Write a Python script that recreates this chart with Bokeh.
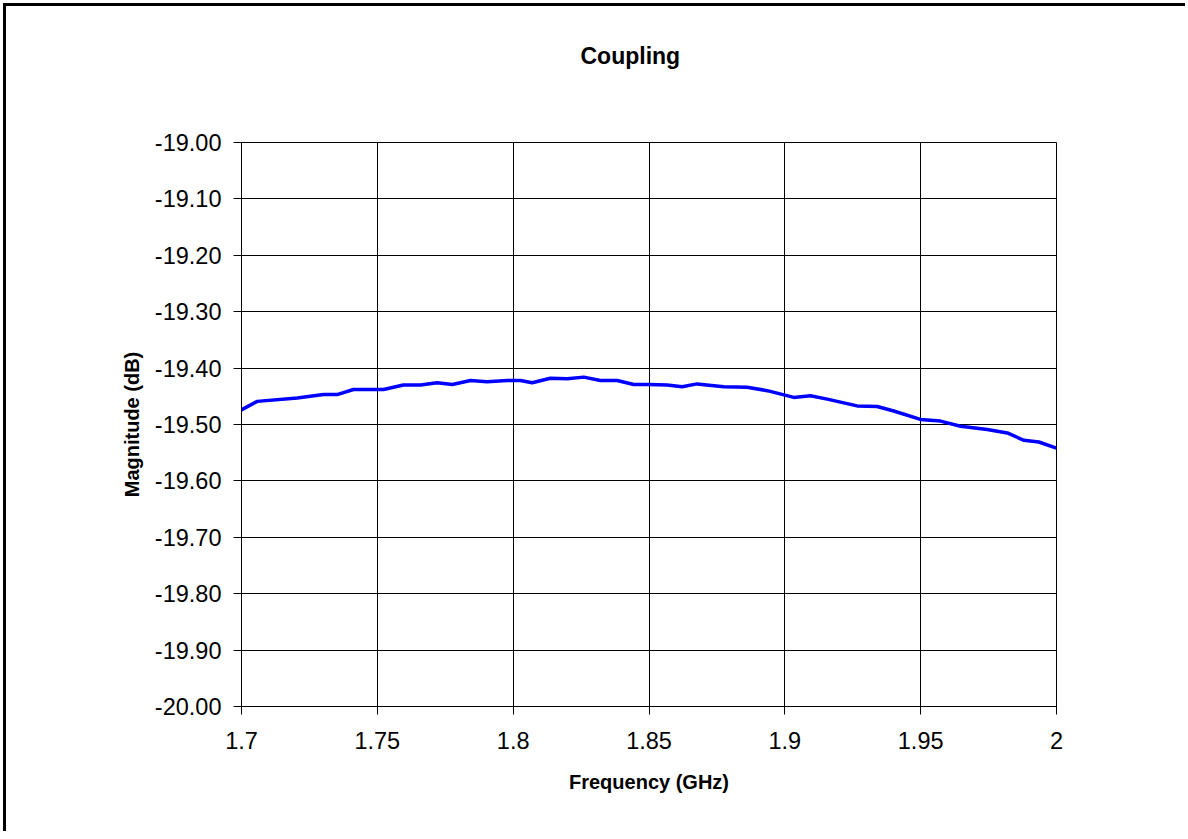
from bokeh.plotting import figure
from bokeh.models import Range1d, FixedTicker, NumeralTickFormatter, CustomJSTickFormatter, Title
from bokeh.embed import file_html
from bokeh.resources import INLINE

# ---- data ----
title_text = "Coupling"
x_title = "Frequency (GHz)"
y_title = "Magnitude (dB)"

freq = [1.7000, 1.7058, 1.7205, 1.7302, 1.7352, 1.7412, 1.7523, 1.7596, 1.7659, 1.7720,
        1.7776, 1.7843, 1.7904, 1.7978, 1.8027, 1.8070, 1.8137, 1.8199, 1.8260, 1.8321,
        1.8383, 1.8444, 1.8498, 1.8567, 1.8622, 1.8677, 1.8775, 1.8861, 1.8935, 1.9033,
        1.9094, 1.9156, 1.9266, 1.9340, 1.9401, 1.9499, 1.9573, 1.9647, 1.9745, 1.9819,
        1.9880, 1.9935, 2.0000]
mag = [-19.474, -19.459, -19.453, -19.447, -19.447, -19.438, -19.438, -19.430, -19.430, -19.426,
       -19.429, -19.422, -19.424, -19.422, -19.422, -19.426, -19.418, -19.419, -19.416, -19.422,
       -19.422, -19.429, -19.429, -19.430, -19.433, -19.428, -19.433, -19.434, -19.440, -19.452,
       -19.449, -19.455, -19.467, -19.468, -19.476, -19.491, -19.494, -19.503, -19.509, -19.515,
       -19.528, -19.531, -19.542]

x_ticks = [1.7, 1.75, 1.8, 1.85, 1.9, 1.95, 2.0]
y_ticks = [-20.0, -19.9, -19.8, -19.7, -19.6, -19.5, -19.4, -19.3, -19.2, -19.1, -19.0]

FONT = "Liberation Sans"

p = figure(width=1182, height=828, output_backend="svg", toolbar_location=None,
           x_range=Range1d(1.7, 2.0), y_range=Range1d(-20.0, -19.0),
           min_border_left=235, min_border_right=132, min_border_top=136, min_border_bottom=128)
p.styles = {"margin": "6px 0 0 6px", "box-shadow": "-3px -3px 0 0 black"}

p.background_fill_color = "white"
p.border_fill_color = "white"
p.outline_line_color = "black"
p.outline_line_width = 1

p.line(freq, mag, line_color="#0000FF", line_width=3.5, line_join="round", line_cap="round")

# spacer between frame and title
p.add_layout(Title(text=" ", text_font=FONT, text_font_size="20px", standoff=12), "above")

# title
p.title.text = title_text
p.title.text_font = FONT
p.title.text_font_size = "23px"
p.title.text_font_style = "bold"
p.title.text_color = "black"
p.title.align = "left"
p.title.offset = 339
p.title.vertical_align = "top"
p.title.standoff = 72

# axes
p.xaxis.ticker = FixedTicker(ticks=x_ticks)
p.yaxis.ticker = FixedTicker(ticks=y_ticks)
p.xaxis.formatter = CustomJSTickFormatter(code="return String(Math.round(tick*100)/100);")
p.yaxis.formatter = NumeralTickFormatter(format="0.00")
for ax in (p.xaxis, p.yaxis):
    ax.axis_line_color = "black"
    ax.major_tick_line_color = "black"
    ax.major_tick_out = 8
    ax.major_tick_in = 0
    ax.minor_tick_line_color = None
    ax.major_label_text_font = FONT
    ax.major_label_text_font_size = "23.5px"
    ax.major_label_text_color = "black"
    ax.axis_label_text_font = FONT
    ax.axis_label_text_font_size = "20px"
    ax.axis_label_text_font_style = "bold"
    ax.axis_label_text_color = "black"
p.xaxis.axis_label = x_title
p.yaxis.axis_label = y_title
p.yaxis.major_label_standoff = 12
p.xaxis.major_label_standoff = 17
p.xaxis.axis_label_standoff = 19
p.yaxis.axis_label_standoff = 9

p.xgrid.ticker = FixedTicker(ticks=x_ticks)
p.ygrid.ticker = FixedTicker(ticks=y_ticks)
for g in (p.xgrid, p.ygrid):
    g.grid_line_color = "black"
    g.grid_line_width = 1
    g.grid_line_alpha = 1.0

open("out.html", "w").write(file_html(p, INLINE))
